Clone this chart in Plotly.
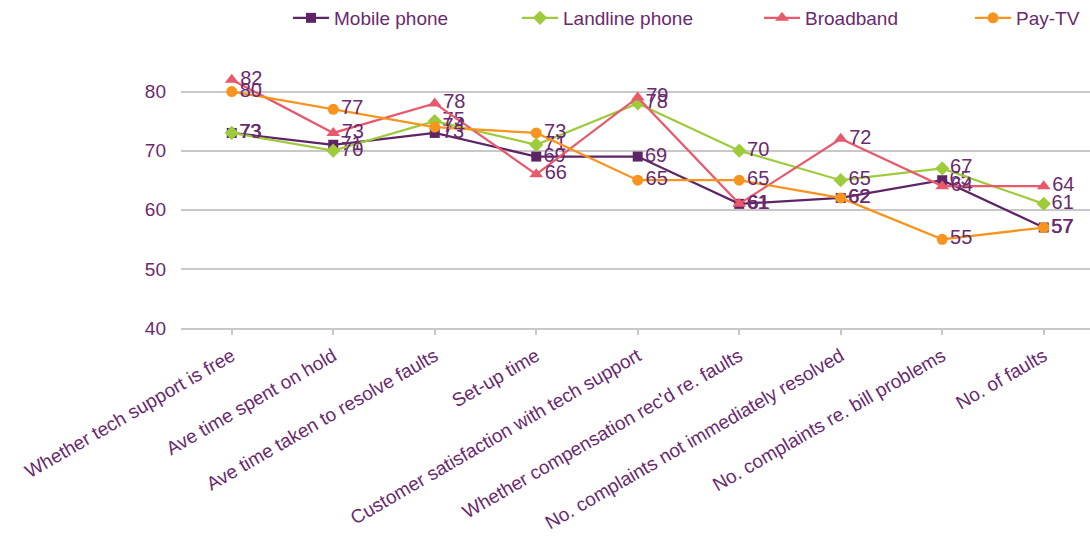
import plotly.graph_objects as go

categories = [
    "Whether tech support is free",
    "Ave time spent on hold",
    "Ave time taken to resolve faults",
    "Set-up time",
    "Customer satisfaction with tech support",
    "Whether compensation rec'd re. faults",
    "No. complaints not immediately resolved",
    "No. complaints re. bill problems",
    "No. of faults",
]

mobile_phone = [73, 71, 73, 69, 69, 61, 62, 65, 57]
landline_phone = [73, 70, 75, 71, 78, 70, 65, 67, 61]
broadband = [82, 73, 78, 66, 79, 61, 72, 64, 64]
pay_tv = [80, 77, 74, 73, 65, 65, 62, 55, 57]

y_ticks = [40, 50, 60, 70, 80]

TEXT = "#6a2a6e"
FONT = "Arial, Liberation Sans, sans-serif"
FS = 19

# plot area geometry (pixels)
L, R, T, B = 181, 0, 62, 210
W, H = 1090, 538
plot_w = W - L - R

# name, values, colour, marker, marker size, legend id, legend left edge (px)
series = [
    ("Mobile phone", mobile_phone, "#5e2566", "square", 10, "legend", 288),
    ("Landline phone", landline_phone, "#9dcb3b", "diamond", 11, "legend2", 517),
    ("Broadband", broadband, "#e8596b", "triangle-up", 12, "legend3", 759),
    ("Pay-TV", pay_tv, "#f7941d", "circle", 11, "legend4", 970),
]

x_idx = list(range(len(categories)))

fig = go.Figure()
legends = {}
for name, vals, color, symbol, size, leg, lx in series:
    fig.add_trace(go.Scatter(
        x=x_idx,
        y=vals,
        name=name,
        legend=leg,
        mode="lines+markers+text",
        line=dict(color=color, width=2.25),
        marker=dict(symbol=symbol, size=size, color=color),
        text=[str(v) for v in vals],
        textposition="middle right",
        textfont=dict(family=FONT, size=20, color=TEXT),
        cliponaxis=False,
    ))
    legends[leg] = dict(
        orientation="h",
        x=(lx - L) / plot_w, xanchor="left",
        y=1 + (T - 18) / (H - T - B), yanchor="middle",
        font=dict(family=FONT, size=FS, color=TEXT),
        bgcolor="rgba(0,0,0,0)",
        itemwidth=36,
    )

fig.update_layout(
    width=W,
    height=H,
    margin=dict(l=L, r=R, t=T, b=B, autoexpand=False),
    paper_bgcolor="white",
    plot_bgcolor="white",
    font=dict(family=FONT, size=FS, color=TEXT),
    showlegend=True,
    **legends,
)

fig.update_xaxes(
    range=[-0.5, 8.456],
    tickmode="array",
    tickvals=x_idx,
    ticktext=categories,
    tickangle=-30,
    tickson="boundaries",
    ticks="outside",
    ticklen=5,
    tickcolor="#c8c8c8",
    tickwidth=1.5,
    showline=True,
    linecolor="#c8c8c8",
    linewidth=1.5,
    showgrid=False,
    zeroline=False,
    tickfont=dict(family=FONT, size=19, color=TEXT),
    ticklabelstandoff=3,
)

fig.update_yaxes(
    range=[40, 85],
    tickmode="array",
    tickvals=y_ticks,
    showgrid=True,
    gridcolor="#c8c8c8",
    gridwidth=1.5,
    showline=False,
    zeroline=False,
    ticks="",
    tickfont=dict(family=FONT, size=FS, color=TEXT),
    ticklabelstandoff=14,
)

fig.write_html("out.html")
